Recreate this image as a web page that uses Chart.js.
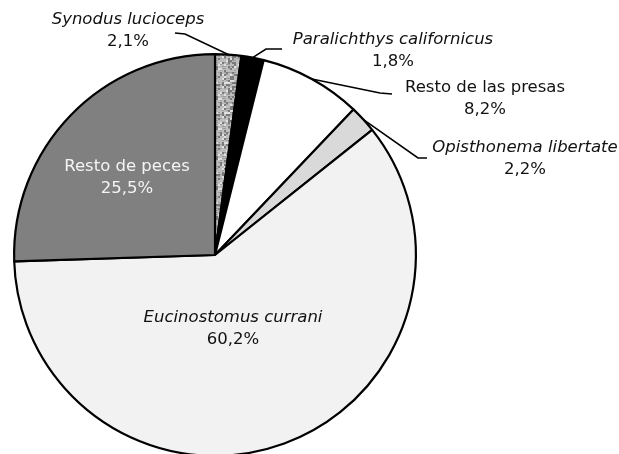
<!DOCTYPE html>
<html>
<head>
<meta charset="utf-8">
<script src="https://cdn.jsdelivr.net/npm/chart.js@4"></script>
<style>
  html, body { margin: 0; padding: 0; background: #fff; }
  #wrap { width: 619px; height: 454px; overflow: hidden; position: relative; }
</style>
</head>
<body>
<div id="wrap"><canvas id="pieChart" width="619" height="470"></canvas></div>
<script>
// Prey composition - pie slices in clockwise order from 12 o'clock
const categories = ['Synodus lucioceps', 'Paralichthys californicus', 'Resto de las presas',
                    'Opisthonema libertate', 'Eucinostomus currani', 'Resto de peces'];
const percentages = [2.1, 1.8, 8.2, 2.2, 60.2, 25.5];
const italicNames = [true, true, false, true, true, false];

(function () {
    // speckled fill for the first slice (deterministic hash, just a texture)
    function speckle() {
        const c = document.createElement('canvas');
        c.width = 30; c.height = 30;
        const g = c.getContext('2d');
        g.fillStyle = '#bdbdbd';
        g.fillRect(0, 0, 30, 30);
        for (let y = 0; y < 30; y += 2) {
            for (let x = 0; x < 30; x += 2) {
                const h = Math.abs(((x * 7349) ^ (y * 9157) ^ (x * y * 31)) % 9);
                if (h < 2) { g.fillStyle = '#7a7a7a'; g.fillRect(x, y, 2, 2); }
                else if (h < 4) { g.fillStyle = '#9c9c9c'; g.fillRect(x, y, 2, 1); }
                else if (h > 7) { g.fillStyle = '#e0e0e0'; g.fillRect(x, y, 2, 2); }
            }
        }
        return g.createPattern(c, 'repeat');
    }

    const ctx = document.getElementById('pieChart').getContext('2d');
    const fills = [speckle(), '#000000', '#ffffff', '#d9d9d9', '#f2f2f2', '#808080'];

    // label placement (layout only): text centre + leader line bend points
    const labelLayout = [
        { tx: 128, ty: 20, line: [[185, 34], [175, 33]] },
        { tx: 393, ty: 40, line: [[266, 49], [282, 49]] },
        { tx: 485, ty: 88, line: [[380, 93], [392, 94]] },
        { tx: 525, ty: 148, line: [[418, 158], [427, 158]] },
        { tx: 233, ty: 318, line: null, color: '#111' },
        { tx: 127, ty: 167, line: null, color: '#f4f4f4' }
    ];

    function fmtPct(v) {
        return v.toFixed(1).replace('.', ',') + '%';
    }

    const pieLabels = {
        id: 'pieLabels',
        afterDatasetsDraw(chart) {
            const c = chart.ctx;
            const arcs = chart.getDatasetMeta(0).data;
            c.save();
            arcs.forEach((arc, i) => {
                const lay = labelLayout[i];
                const p = arc.getProps(['x', 'y', 'startAngle', 'endAngle', 'outerRadius'], true);
                if (lay.line) {
                    const mid = (p.startAngle + p.endAngle) / 2;
                    c.beginPath();
                    c.moveTo(p.x + p.outerRadius * Math.cos(mid), p.y + p.outerRadius * Math.sin(mid));
                    lay.line.forEach(pt => c.lineTo(pt[0], pt[1]));
                    c.strokeStyle = '#000';
                    c.lineWidth = 1.6;
                    c.stroke();
                }
                c.fillStyle = lay.color || '#111';
                c.textAlign = 'center';
                c.textBaseline = 'middle';
                c.font = (italicNames[i] ? 'italic ' : '') + '16.5px "DejaVu Sans", Verdana, sans-serif';
                c.fillText(categories[i], lay.tx, lay.ty);
                c.font = '16.5px "DejaVu Sans", Verdana, sans-serif';
                c.fillText(fmtPct(percentages[i]), lay.tx, lay.ty + 22);
            });
            c.restore();
        }
    };

    new Chart(ctx, {
        type: 'pie',
        data: {
            labels: categories,
            datasets: [{
                data: percentages,
                backgroundColor: fills,
                borderColor: '#000000',
                borderWidth: 2.2,
                hoverOffset: 0
            }]
        },
        options: {
            responsive: false,
            animation: false,
            layout: { padding: { left: 13, top: 53, right: 202, bottom: 13 } },
            plugins: {
                legend: { display: false },
                tooltip: { enabled: false }
            }
        },
        plugins: [pieLabels]
    });
})();
</script>
</body>
</html>
